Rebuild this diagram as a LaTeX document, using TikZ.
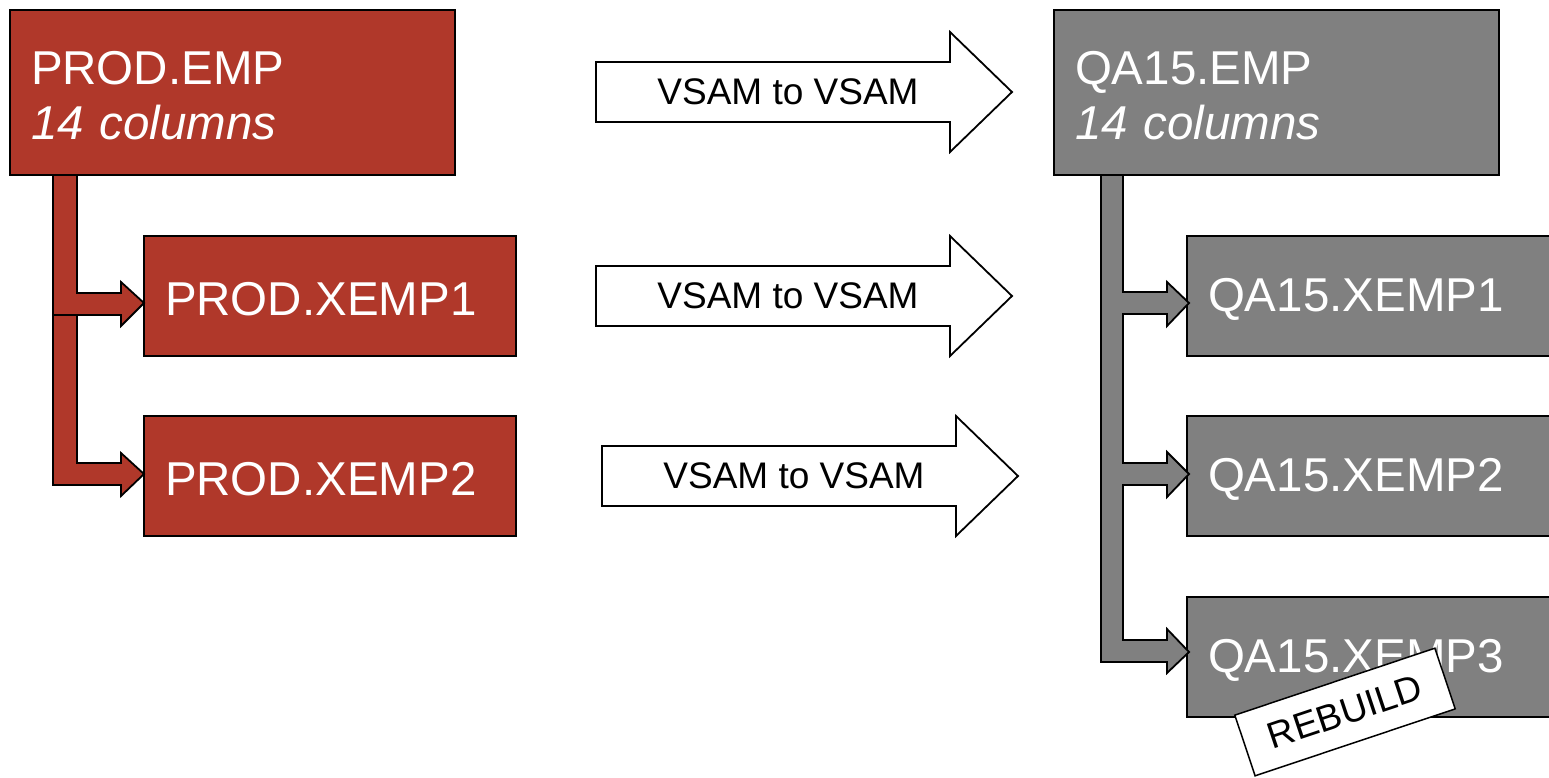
\documentclass[tikz,border=0pt]{standalone}
\usepackage{fontspec}
\setmainfont{Liberation Sans}
\usetikzlibrary{calc}
\definecolor{prodred}{RGB}{176,56,42}
\definecolor{qagray}{RGB}{128,128,128}
\tikzset{%
  dsbox/.style={draw=black, line width=1.8pt, anchor=north west, outer sep=0pt,
    inner xsep=21pt, inner ysep=0pt, align=left, text=white, text height=40pt,
    font=\fontsize{47.5}{55}\selectfont},
  prodbox/.style={dsbox, fill=prodred},
  qabox/.style={dsbox, fill=qagray},
  branch/.style={draw=black, line width=1.8pt, line join=miter},
  rebuildtag/.style={draw=black, fill=white, line width=1.5pt, rotate=18.5,
    minimum width=211pt, minimum height=64pt, font=\fontsize{37}{42}\selectfont},
  vsam/.pic={%
    % block arrow, origin at the middle of the shaft's back end
    \draw[fill=white, line width=1.8pt, line join=miter]
      (0,-30) -- (354,-30) -- (354,-60) -- (416,0) -- (354,60) -- (354,30) -- (0,30) -- cycle;
    \node (-lbl) at (192,0) {\fontsize{37}{44}\selectfont VSAM to VSAM};
  }%
}
\begin{document}
\begin{tikzpicture}[x=1pt, y=-1pt]

  \useasboundingbox (0,0) rectangle (1549,777);

  % production data sets
  \node[prodbox, minimum height=165pt, text width=403pt] (pemp) at (10,10)
    {PROD.EMP\\\itshape 14 columns};
  \node[prodbox, minimum height=120pt, text width=330pt] (pxone) at (144,236) {PROD.XEMP1};
  \node[prodbox, minimum height=120pt, text width=330pt] (pxtwo) at (144,416) {PROD.XEMP2};

  % QA data sets (cut off at the right edge)
  \node[qabox, minimum height=165pt, text width=403pt] (qemp) at (1054,10)
    {QA15.EMP\\\itshape 14 columns};
  \node[qabox, minimum height=120pt, text width=331pt] (qxone) at (1187,236) {QA15.XEMP1};
  \node[qabox, minimum height=120pt, text width=331pt] (qxtwo) at (1187,416) {QA15.XEMP2};
  \node[qabox, minimum height=120pt, text width=331pt] (qxthree) at (1187,597) {QA15.XEMP3};

  % copy arrows between the two sides
  \pic (cpemp) at (596,92) {vsam};
  \pic (cpxone) at (596,296) {vsam};
  \pic (cpxtwo) at (602,476) {vsam};

  % index branches on the production side
  \draw[branch, fill=prodred] (pemp.south -| 53,0) -- (pemp.south -| 77,0) -- (77,293) -- (121,293)
    -- (121,282) -- (pxone.west |- 0,303) -- (121,326) -- (121,315) -- (53,315) -- cycle;
  \draw[branch, fill=prodred] (53,315) -- (77,315) -- (77,463) -- (121,463)
    -- (121,453) -- (pxtwo.west |- 0,474) -- (121,496) -- (121,485) -- (53,485) -- cycle;

  % index branches on the QA side
  \draw[branch, fill=qagray] (qemp.south -| 1101,0) -- (qemp.south -| 1123,0)
    -- (1123,292) -- (1167,292) -- (1167,282) -- ([xshift=2pt]qxone.west |- 0,303) -- (1167,326) -- (1167,314)
    -- (1123,314) -- (1123,463) -- (1167,463) -- (1167,452) -- ([xshift=2pt]qxtwo.west |- 0,474) -- (1167,497) -- (1167,485)
    -- (1123,485) -- (1123,640) -- (1167,640) -- (1167,629) -- ([xshift=2pt]qxthree.west |- 0,652) -- (1167,673) -- (1167,662)
    -- (1101,662) -- cycle;

  % rebuild tag on the last index
  \node[rebuildtag] (rebuild) at (1345,712) {REBUILD};

\end{tikzpicture}
\end{document}
